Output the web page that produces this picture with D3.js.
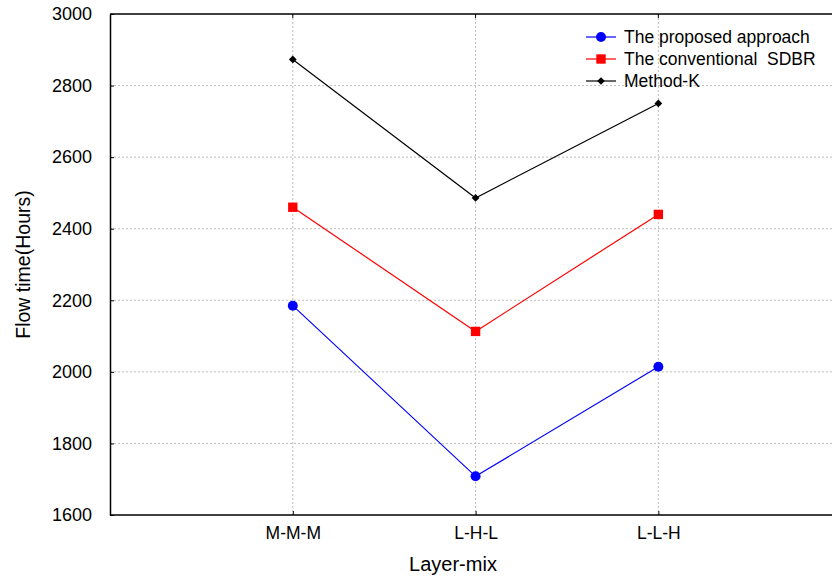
<!DOCTYPE html>
<html>
<head>
<meta charset="utf-8">
<script src="https://cdn.jsdelivr.net/npm/d3@7"></script>
<style>
  html, body { margin: 0; padding: 0; background: #fff; }
  svg { display: block; font-family: "Liberation Sans", Arial, sans-serif; }
</style>
</head>
<body>
<svg id="chart" width="832" height="581"></svg>
<script>
// Flow time per layer-mix for three scheduling methods
const categories = ["M-M-M", "L-H-L", "L-L-H"];
const proposed = [2185, 1708, 2014];
const sdbr = [2460, 2113, 2440];
const methodK = [2873, 2486, 2750];
const yTicks = [1600, 1800, 2000, 2200, 2400, 2600, 2800, 3000];
const seriesNames = ["The proposed approach", "The conventional  SDBR", "Method-K"];

const series = [
  { name: seriesNames[0], values: proposed, color: "#0000ff", symbol: d3.symbolCircle, size: 78, rot: 0 },
  { name: seriesNames[1], values: sdbr, color: "#ff0000", symbol: d3.symbolSquare, size: 88, rot: 0 },
  { name: seriesNames[2], values: methodK, color: "#000000", symbol: d3.symbolSquare, size: 30, rot: 45 }
];

const svg = d3.select("#chart");
const plotLeft = 110, plotRight = 832, plotTop = 14, plotBottom = 515;

const x = d3.scaleLinear().domain([0, 3.95]).range([plotLeft, plotRight]);
const y = d3.scaleLinear().domain([1600, 3000]).range([plotBottom, plotTop]);
const xPos = i => x(i + 1);

// grid
const grid = svg.append("g");
grid.selectAll("line.hg").data(yTicks.slice(1, -1)).join("line")
  .attr("x1", plotLeft).attr("x2", plotRight)
  .attr("y1", d => y(d)).attr("y2", d => y(d))
  .attr("stroke", "#bdbdbd").attr("stroke-width", 1).attr("stroke-dasharray", "2,2");
grid.selectAll("line.vg").data(categories).join("line")
  .attr("x1", (d, i) => xPos(i)).attr("x2", (d, i) => xPos(i))
  .attr("y1", plotTop).attr("y2", plotBottom)
  .attr("stroke", "#bdbdbd").attr("stroke-width", 1).attr("stroke-dasharray", "2,2");

// axes
const yAxis = d3.axisLeft(y).tickValues(yTicks).tickFormat(d3.format("d"))
  .tickSizeInner(-4).tickSizeOuter(0).tickPadding(18);
const gy = svg.append("g").attr("transform", `translate(${plotLeft},0)`).call(yAxis);
gy.select(".domain").attr("stroke", "#000").attr("stroke-width", 1.5);
gy.selectAll("text").attr("font-size", 18).attr("fill", "#000");

const xBand = d3.scalePoint().domain(categories).range([xPos(0), xPos(2)]);
const xAxis = d3.axisBottom(xBand).tickSizeInner(-4).tickSizeOuter(0).tickPadding(12);
const gx = svg.append("g").attr("transform", `translate(0,${plotBottom})`).call(xAxis);
gx.select(".domain").remove();
gx.selectAll("text").attr("font-size", 17.5).attr("fill", "#000");
svg.append("line").attr("x1", plotLeft).attr("x2", plotRight).attr("y1", plotBottom).attr("y2", plotBottom)
  .attr("stroke", "#000").attr("stroke-width", 1.5);

// top frame with inward ticks
svg.append("line").attr("x1", plotLeft).attr("x2", plotRight).attr("y1", plotTop).attr("y2", plotTop)
  .attr("stroke", "#000").attr("stroke-width", 1.5);
svg.append("g").selectAll("line").data(categories).join("line")
  .attr("x1", (d, i) => xPos(i)).attr("x2", (d, i) => xPos(i))
  .attr("y1", plotTop).attr("y2", plotTop + 4).attr("stroke", "#000");

// series
const line = d3.line().x((d, i) => xPos(i)).y(d => y(d));
series.forEach(s => {
  svg.append("path").datum(s.values).attr("d", line)
    .attr("fill", "none").attr("stroke", s.color).attr("stroke-width", 1.2);
  svg.append("g").selectAll("path").data(s.values).join("path")
    .attr("transform", (d, i) => `translate(${xPos(i)},${y(d)}) rotate(${s.rot})`)
    .attr("d", d3.symbol().type(s.symbol).size(s.size))
    .attr("fill", s.color);
});

// legend
const legend = svg.append("g");
series.forEach((s, i) => {
  const ly = 37 + i * 22;
  legend.append("line").attr("x1", 586).attr("x2", 616).attr("y1", ly).attr("y2", ly)
    .attr("stroke", s.color).attr("stroke-width", 1.2);
  legend.append("path").attr("transform", `translate(601,${ly}) rotate(${s.rot})`)
    .attr("d", d3.symbol().type(s.symbol).size(s.size)).attr("fill", s.color);
  legend.append("text").attr("x", 624).attr("y", ly).attr("dy", "0.35em")
    .attr("font-size", 17.5).style("white-space", "pre").text(s.name);
});

// axis titles
svg.append("text").attr("transform", `translate(30,${(plotTop + plotBottom) / 2}) rotate(-90)`)
  .attr("text-anchor", "middle").attr("font-size", 19.5).text("Flow time(Hours)");
svg.append("text").attr("x", 453).attr("y", 571)
  .attr("text-anchor", "middle").attr("font-size", 20).text("Layer-mix");
</script>
</body>
</html>
